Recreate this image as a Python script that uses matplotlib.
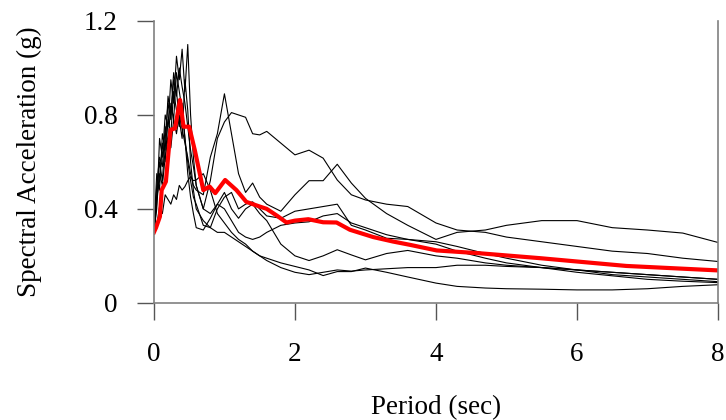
import matplotlib
matplotlib.use('Agg')
import matplotlib.pyplot as plt

plt.rcParams['font.family'] = ['Liberation Serif', 'DejaVu Serif']

# periods (sec) shared by the seven records
periods = [0.0, 0.04, 0.08, 0.12, 0.16, 0.2, 0.24, 0.28, 0.32, 0.36, 0.4, 0.44, 0.48, 0.52, 0.56, 0.6,
           0.7, 0.8, 0.9, 1.0, 1.1, 1.2, 1.3, 1.4, 1.5, 1.6, 1.8, 2.0, 2.2, 2.4, 2.6, 2.8, 3.0,
           3.3, 3.6, 4.0, 4.3, 4.7, 5.0, 5.5, 6.0, 6.5, 7.0, 7.5, 8.0]

rec1 = [0.30, 0.42, 0.55, 0.50, 0.62, 0.70, 0.66, 0.78, 0.72, 0.80, 0.74, 0.68, 0.62, 0.55, 0.50, 0.48,
        0.46, 0.62, 0.72, 0.89, 0.72, 0.55, 0.47, 0.51, 0.45, 0.42, 0.39, 0.46, 0.52, 0.52, 0.59, 0.51, 0.445,
        0.38, 0.33, 0.27, 0.30, 0.31, 0.33, 0.35, 0.35, 0.32, 0.31, 0.297, 0.257]
rec2 = [0.30, 0.45, 0.60, 0.52, 0.70, 0.85, 0.78, 0.95, 0.88, 1.00, 0.92, 0.85, 0.75, 0.65, 0.58, 0.50,
        0.40, 0.52, 0.70, 0.77, 0.81, 0.80, 0.79, 0.72, 0.715, 0.73, 0.68, 0.63, 0.65, 0.616, 0.523, 0.46, 0.438,
        0.42, 0.41, 0.34, 0.31, 0.30, 0.28, 0.26, 0.24, 0.22, 0.21, 0.19, 0.176]
rec3 = [0.30, 0.50, 0.62, 0.58, 0.75, 0.68, 0.85, 0.78, 0.98, 0.90, 0.82, 0.70, 0.60, 0.52, 0.45, 0.42,
        0.33, 0.32, 0.40, 0.45, 0.47, 0.40, 0.42, 0.43, 0.40, 0.37, 0.36, 0.39, 0.40, 0.41, 0.42, 0.33, 0.31,
        0.275, 0.27, 0.26, 0.24, 0.21, 0.19, 0.16, 0.14, 0.13, 0.12, 0.11, 0.10]
rec4 = [0.30, 0.40, 0.70, 0.62, 0.80, 0.75, 0.95, 0.85, 1.05, 0.95, 1.08, 0.90, 1.10, 0.80, 0.62, 0.50,
        0.40, 0.38, 0.42, 0.40, 0.35, 0.30, 0.28, 0.27, 0.28, 0.30, 0.33, 0.34, 0.345, 0.37, 0.38, 0.34, 0.32,
        0.29, 0.27, 0.25, 0.22, 0.19, 0.17, 0.15, 0.13, 0.115, 0.10, 0.092, 0.086]
rec5 = [0.30, 0.45, 0.52, 0.68, 0.60, 0.78, 0.72, 0.90, 0.82, 0.75, 0.85, 0.70, 0.55, 0.45, 0.38, 0.32,
        0.31, 0.36, 0.42, 0.47, 0.40, 0.36, 0.40, 0.42, 0.38, 0.35, 0.25, 0.20, 0.18, 0.20, 0.226, 0.204, 0.183,
        0.21, 0.223, 0.20, 0.19, 0.17, 0.16, 0.15, 0.14, 0.12, 0.11, 0.10, 0.09]
rec6 = [0.30, 0.33, 0.41, 0.38, 0.46, 0.44, 0.42, 0.46, 0.44, 0.50, 0.48, 0.495, 0.52, 0.537, 0.52, 0.523,
        0.55, 0.48, 0.38, 0.34, 0.30, 0.27, 0.25, 0.22, 0.20, 0.18, 0.15, 0.13, 0.12, 0.13, 0.14, 0.135, 0.14,
        0.145, 0.15, 0.15, 0.16, 0.16, 0.155, 0.15, 0.14, 0.13, 0.12, 0.11, 0.10]
rec7 = [0.30, 0.55, 0.48, 0.72, 0.65, 0.88, 0.80, 0.98, 0.90, 0.78, 0.70, 0.95, 0.82, 0.60, 0.48, 0.40,
        0.35, 0.32, 0.30, 0.30, 0.28, 0.26, 0.24, 0.22, 0.20, 0.19, 0.17, 0.155, 0.14, 0.116, 0.133, 0.133, 0.148,
        0.13, 0.11, 0.084, 0.07, 0.063, 0.06, 0.058, 0.055, 0.055, 0.06, 0.07, 0.077]
records = [rec1, rec2, rec3, rec4, rec5, rec6, rec7]

# mean spectrum (red)
mean_periods = [0.0, 0.03, 0.085, 0.11, 0.17, 0.235, 0.30, 0.37, 0.42, 0.50, 0.58, 0.70, 0.79, 0.87, 1.01,
                1.17, 1.31, 1.50, 1.6, 1.75, 1.88, 2.0, 2.19, 2.40, 2.59, 2.78, 3.11, 3.39, 3.63, 4.01,
                4.62, 5.48, 6.70, 8.0]
mean_sa = [0.30, 0.32, 0.367, 0.48, 0.516, 0.736, 0.743, 0.864, 0.75, 0.75, 0.65, 0.48, 0.495, 0.467, 0.523,
           0.48, 0.43, 0.41, 0.40, 0.37, 0.342, 0.35, 0.356, 0.343, 0.342, 0.311, 0.28, 0.261, 0.247, 0.223,
           0.211, 0.19, 0.157, 0.138]

fig = plt.figure(figsize=(7.26, 4.2), dpi=100)
ax = fig.add_axes([0.212, 0.279, 0.777, 0.671])

for r in records:
    ax.plot(periods, r, color='black', lw=0.8)
ax.plot(mean_periods, mean_sa, color='#ff0000', lw=3)

ax.set_xlim(0, 8)
ax.set_ylim(0, 1.2)
ax.set_xticks([0, 2, 4, 6, 8])
ax.set_xticklabels(['0', '2', '4', '6', '8'])
ax.set_yticks([0, 0.4, 0.8, 1.2])
ax.set_yticklabels(['0', '0.4', '0.8', '1.2'])

ax.spines['top'].set_visible(False)
for s in ['left', 'bottom', 'right']:
    ax.spines[s].set_color('#808080')
    ax.spines[s].set_linewidth(1.2)
ax.tick_params(axis='both', direction='out', length=12.5, width=1, color='#555555',
               labelsize=19.5)
ax.tick_params(axis='y', pad=13.5)
ax.tick_params(axis='x', pad=16)

ax.set_xlabel('Period (sec)', fontsize=19.5, labelpad=20)
ax.set_ylabel('Spectral Acceleration (g)', fontsize=19.5, labelpad=30)

fig.savefig('out.png', dpi=100)
